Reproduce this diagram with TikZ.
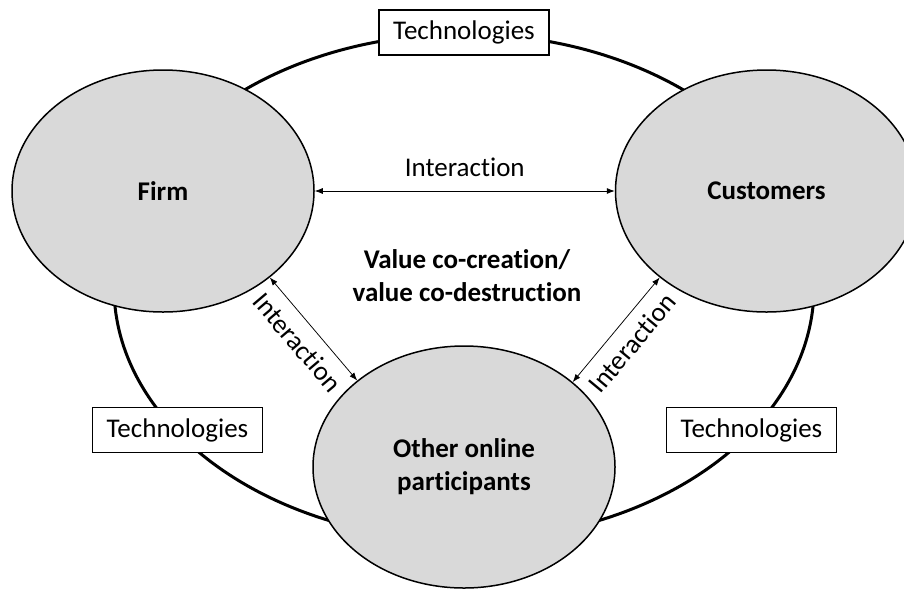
\documentclass[tikz,border=0pt]{standalone}
\usepackage{fontspec}
\setmainfont[Ligatures=NoCommon]{Carlito}
\usepackage{tikz}
\usetikzlibrary{shapes.geometric, arrows.meta, positioning}
\definecolor{actorgray}{HTML}{D9D9D9}

\begin{document}
\begin{tikzpicture}[
        x=1pt, y=-1pt,
        ring/.style={ellipse, draw=black, line width=3pt, minimum width=700pt, minimum height=506pt},
        actor/.style={ellipse, draw=black, line width=1.5pt, fill=actorgray, minimum width=302pt, minimum height=242pt, inner sep=0pt, align=center, font=\fontsize{27}{33}\selectfont\bfseries},
        techbox/.style={rectangle, draw=black, line width=1.5pt, fill=white, minimum width=170pt, minimum height=45pt, inner sep=0pt, font=\fontsize{27}{33}\selectfont},
        link/.style={{Latex[length=8pt,width=6pt]}-{Latex[length=8pt,width=6pt]}, line width=0.75pt},
        linklabel/.style={inner sep=0pt, font=\fontsize{27}{33}\selectfont}
    ]
        \useasboundingbox (0,0) rectangle (904,590);
        \clip (0,0) rectangle (904,590);

        % Outer ring
        \node[ring] (ring) at (464,287) {};

        % Actors
        \node[actor] (firm) at (163,191) {Firm};
        \node[actor, right=300pt of firm] (customers) {Customers};
        \node[actor] (other) at (464,467) {Other online\\participants};

        % Technologies on the ring
        \node[techbox] (techtop) at (ring.north) {Technologies};
        \node[techbox] (techleft) at (177.5,430) {Technologies};
        \node[techbox] (techright) at (751.5,430) {Technologies};

        % Centre statement
        \node[align=center, font=\fontsize{27}{33}\selectfont\bfseries] (value) at (467,276) {Value co-creation/\\value co-destruction};

        % Interactions
        \draw[link] (firm) -- (customers) node[linklabel, midway, above=14pt] {Interaction};
        \draw[link] (firm.-39) -- (other.141) node[linklabel, midway, sloped, below=11pt] {Interaction};
        \draw[link] (other.38) -- (customers.219) node[linklabel, midway, sloped, below=11pt] {Interaction};

    \end{tikzpicture}
\end{document}
